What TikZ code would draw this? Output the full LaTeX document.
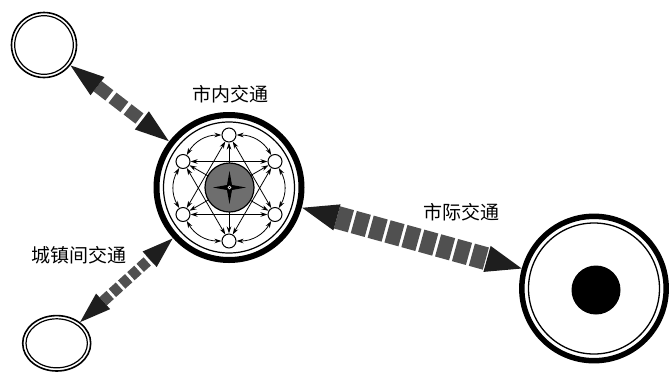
\documentclass[tikz,border=0pt]{standalone}
\usepackage{fontspec}
\newfontfamily\cjk{Noto Sans CJK SC}
\usetikzlibrary{arrows.meta,shapes.geometric}
\definecolor{headc}{HTML}{1E1E1E}
\definecolor{blockc}{HTML}{505050}
\definecolor{discc}{HTML}{6E6E6E}
\begin{document}
\begin{tikzpicture}[x=1pt,y=-1pt,
  lbl/.style={font=\cjk\fontsize{19}{19}\selectfont, inner sep=0pt},
  hnode/.style={circle,draw,fill=white,line width=1pt,minimum size=14pt,inner sep=0pt},
  inedge/.style={line width=0.8pt,{Stealth[length=7pt,width=4.5pt]}-{Stealth[length=7pt,width=4.5pt]}},
  bigarr/.style n args={5}{line width=#1, draw=blockc, dash pattern=on #2 off #3,
    {Triangle[length=#4,width=#5,line width=0pt,color=headc]}-{Triangle[length=#4,width=#5,line width=0pt,color=headc]}},
  hub/.style={circle,minimum size=152pt,inner sep=0pt,outer sep=0pt},
  town/.style={circle,minimum size=67pt,inner sep=0pt,outer sep=0pt},
  townell/.style={ellipse,minimum width=70pt,minimum height=57pt,inner sep=0pt,outer sep=0pt},
  city/.style={circle,minimum size=150pt,inner sep=0pt,outer sep=0pt}]
\useasboundingbox (0,0) rectangle (672,373);

% main nodes
\node[hub] (main) at (229,187.5) {};
\node[town] (tl) at (44,45) {};
\node[townell] (bl) at (56.7,343.3) {};
\node[city] (big) at (594,288.5) {};

% rings
\draw[line width=6pt] (main.center) circle (72.5pt);
\draw[line width=1.2pt] (main.center) circle (65.5pt);
\draw[line width=1.6pt] (tl.center) circle (32.5pt);
\draw[line width=1.2pt] (tl.center) circle (29.3pt);
\draw[line width=1.6pt] (bl.center) ellipse [x radius=34pt, y radius=27.7pt];
\draw[line width=1.2pt] (bl.center) ellipse [x radius=30.7pt, y radius=24.5pt];
\draw[line width=5.5pt] (big.center) circle (72.2pt);
\draw[line width=1.3pt] (big.center) circle (65.5pt);
\node[circle,fill=black,minimum size=49pt,inner sep=0pt] (core) at (596,290) {};

% connectors between places
\draw[bigarr={13pt}{15pt}{4pt}{34pt}{23pt}] (tl) -- (main);
\draw[bigarr={11pt}{9.5pt}{3pt}{31pt}{21pt}] (bl) -- (main);
\draw[bigarr={23pt}{14.5pt}{3pt}{36pt}{27pt}] (main) -- (big);

% labels
\node[lbl] (l1) at (230,94) {市内交通};
\node[lbl] (l2) at (461,212) {市际交通};
\node[lbl] (l3) at (79,255) {城镇间交通};

% inner network
\node[hnode] (h0) at (229,135) {};
\node[hnode] (h1) at (183,161.5) {};
\node[hnode] (h2) at (183,214.5) {};
\node[hnode] (h3) at (229,241) {};
\node[hnode] (h4) at (275,214.5) {};
\node[hnode] (h5) at (275,161.5) {};

\draw[inedge] (h0) to[bend right=30] (h1);
\draw[inedge] (h1) to[bend right=30] (h2);
\draw[inedge] (h2) to[bend right=30] (h3);
\draw[inedge] (h3) to[bend right=30] (h4);
\draw[inedge] (h4) to[bend right=30] (h5);
\draw[inedge] (h5) to[bend right=30] (h0);
\draw[inedge] (h0) -- (h2);
\draw[inedge] (h2) -- (h4);
\draw[inedge] (h4) -- (h0);
\draw[inedge] (h3) -- (h1);
\draw[inedge] (h1) -- (h5);
\draw[inedge] (h5) -- (h3);
\draw[inedge] (h0) -- (h3);
\draw[inedge] (h1) -- (h4);
\draw[inedge] (h5) -- (h2);

% central disc
\node[circle,draw=black,fill=discc,line width=1.2pt,minimum size=49pt,inner sep=0pt] (disc) at (229.5,187.5) {};
\fill[black] (229.5,171) -- (232,185) -- (246,187.5) -- (232,190) -- (229.5,204)
  -- (227,190) -- (213,187.5) -- (227,185) -- cycle;
\draw[white,line width=0.5pt] (disc.center) circle (1.5pt);
\end{tikzpicture}
\end{document}
